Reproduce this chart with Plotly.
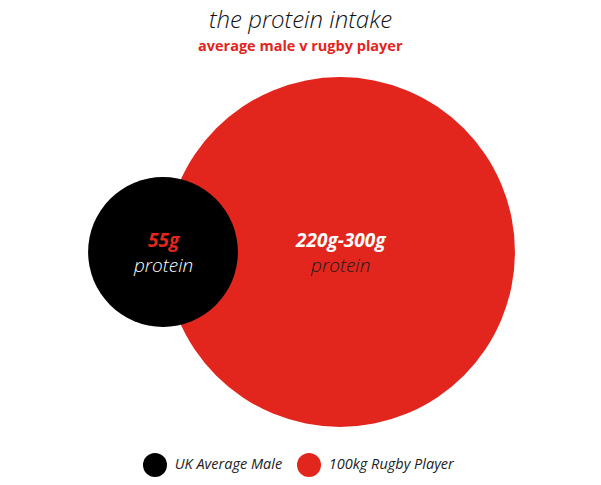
import math
import plotly.graph_objects as go

# --- DATA ---
names = ["UK Average Male", "100kg Rugby Player"]
protein_low = [55, 220]      # grams per day
protein_high = [55, 300]
circle_colors = ["#000000", "#e2261e"]
value_colors = ["#e2261e", "#ffffff"]
label_colors = ["#ffffff", "#1a1a1a"]

RED = "#e2261e"
FONT = "Open Sans"

# circle area proportional to the upper protein figure
px_per_sqrt_g = 20.2
diameters = [px_per_sqrt_g * math.sqrt(v) for v in protein_high]

fig = go.Figure()

# draw the big one first so the small circle sits on top
for i in reversed(range(len(names))):
    fig.add_trace(go.Scatter(
        x=[i], y=[0],
        mode="markers",
        marker=dict(size=diameters[i], color=circle_colors[i], line=dict(width=0)),
        hoverinfo="skip",
        showlegend=False,
        xaxis="x", yaxis="y",
    ))

# labels inside the circles: value on top, "protein" underneath
for i in range(len(names)):
    if protein_low[i] == protein_high[i]:
        val = f"{protein_high[i]}g"
    else:
        val = f"{protein_low[i]}g-{protein_high[i]}g"
    label = (f"<span style='color:{value_colors[i]}'><b>{val}</b></span><br>"
             f"<span style='color:{label_colors[i]}'>protein</span>")
    fig.add_annotation(
        x=i, y=0, xref="x", yref="y", text=label, showarrow=False,
        xanchor="center", yanchor="middle", align="center",
        font=dict(family=FONT, size=19, color=label_colors[i], weight=300, style="italic"),
    )

# legend row (custom so the dots can be full size)
fig.add_trace(go.Scatter(
    x=list(range(len(names))), y=[0] * len(names),
    mode="markers+text",
    marker=dict(size=24, color=circle_colors, line=dict(width=0)),
    text=[" " + n for n in names],
    textposition="middle right",
    textfont=dict(family=FONT, size=14.5, color="#222222", style="italic"),
    hoverinfo="skip",
    showlegend=False,
    xaxis="x2", yaxis="y2",
))

W, H = 601, 485

# subtitle
fig.add_annotation(
    x=300.5 / W, y=1 - 45 / H, xref="paper", yref="paper", showarrow=False,
    text="average male v rugby player", xanchor="center", yanchor="middle",
    font=dict(family=FONT, size=14.5, color=RED, weight=700),
)

# main axis: item 0 centred at 163px, item 1 at 340px, 252px from top
sx = 340 - 163
x0 = -163 / sx
ytop = 252 / H * 2
# legend axis: dots at 155px and 309px, 465px from top
lx = 309 - 155
lx0 = -155 / lx
ltop = 465 / H * 2

hidden = dict(visible=False, showgrid=False, zeroline=False, fixedrange=True)
fig.update_layout(
    width=W, height=H,
    margin=dict(l=0, r=0, t=0, b=0),
    paper_bgcolor="white", plot_bgcolor="white",
    title=dict(
        text="the protein intake",
        x=300.5 / W, xanchor="center", xref="paper",
        y=1 - 20 / H, yanchor="middle", yref="container",
        font=dict(family=FONT, size=24, color="#111111", weight=300, style="italic"),
    ),
    xaxis=dict(range=[x0, x0 + W / sx], domain=[0, 1], **hidden),
    yaxis=dict(range=[ytop - 2, ytop], domain=[0, 1], **hidden),
    xaxis2=dict(range=[lx0, lx0 + W / lx], overlaying="x", **hidden),
    yaxis2=dict(range=[ltop - 2, ltop], overlaying="y", **hidden),
)

# drop the default page margin so the figure fills the window exactly
fig.write_html(
    "out.html",
    config={"displayModeBar": False},
    post_script="document.body.style.margin='0';",
)
